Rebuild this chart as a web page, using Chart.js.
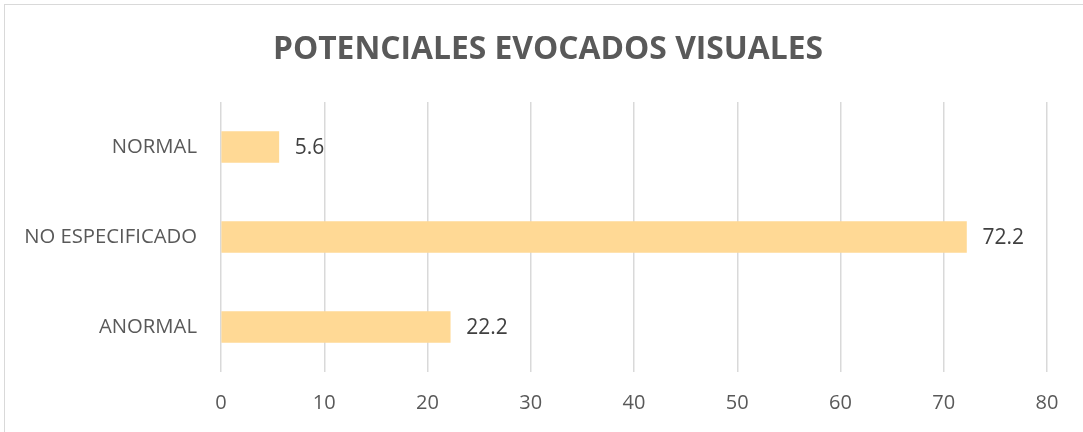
<!DOCTYPE html>
<html>
<head>
<meta charset="utf-8">
<script src="https://cdn.jsdelivr.net/npm/chart.js@4"></script>
<style>
  html, body { margin: 0; padding: 0; background: #fff; overflow: hidden; }
  #wrap { position: relative; width: 1083px; height: 432px; }
  #frame { position: absolute; left: 4px; top: 4px; width: 1100px; height: 450px; border: 1px solid #d9d9d9; box-sizing: border-box; }
  canvas { position: absolute; left: 0; top: 0; }
</style>
</head>
<body>
<div id="wrap">
  <div id="frame"></div>
  <canvas id="pevChart" width="1083" height="432"></canvas>
</div>
<script>
// ================= DATA =================
const categories = ["NORMAL", "NO ESPECIFICADO", "ANORMAL"];
const percentValues = [5.6, 72.2, 22.2];
const xTicks = [0, 10, 20, 30, 40, 50, 60, 70, 80];
const chartTitle = "POTENCIALES EVOCADOS VISUALES";

const FONT = "'Open Sans', 'Noto Sans', sans-serif";

// title drawn by hand so it sits centred on the whole frame, not the padded box
const titleText = {
  id: "titleText",
  afterDraw(chart) {
    const ctx = chart.ctx;
    ctx.save();
    ctx.font = "bold 31.8px " + FONT;
    ctx.fillStyle = "#595959";
    ctx.textAlign = "center";
    ctx.textBaseline = "middle";
    ctx.fillText(chartTitle, 548, 50);
    ctx.restore();
  }
};

// value labels at the end of each bar
const barLabels = {
  id: "barLabels",
  afterDatasetsDraw(chart) {
    const ctx = chart.ctx;
    const meta = chart.getDatasetMeta(0);
    ctx.save();
    ctx.font = "21px " + FONT;
    ctx.fillStyle = "#404040";
    ctx.textAlign = "left";
    ctx.textBaseline = "middle";
    meta.data.forEach((bar, i) => {
      ctx.fillText(String(percentValues[i]), bar.x + 16, bar.y + 1);
    });
    ctx.restore();
  }
};

new Chart(document.getElementById("pevChart"), {
  type: "bar",
  data: {
    labels: categories,
    datasets: [{
      data: percentValues,
      backgroundColor: "#FFD995",
      barThickness: 31
    }]
  },
  options: {
    indexAxis: "y",
    responsive: false,
    animation: false,
    layout: { padding: { left: 0, right: 36, top: 102, bottom: 0 } },
    plugins: {
      legend: { display: false },
      tooltip: { enabled: false },
      title: { display: false }
    },
    scales: {
      x: {
        min: 0,
        max: 80,
        afterBuildTicks(scale) {
          scale.ticks = xTicks.map(v => ({ value: v }));
        },
        afterFit(scale) { scale.height = 60; },
        grid: { color: "#d9d9d9", lineWidth: 1.5, drawTicks: false },
        border: { display: false },
        ticks: {
          color: "#595959",
          font: { family: FONT, size: 20 },
          padding: 19,
          maxRotation: 0
        }
      },
      y: {
        afterFit(scale) { scale.width = 221; },
        grid: { display: false, drawTicks: false },
        border: { display: false },
        ticks: {
          color: "#595959",
          font: { family: FONT, size: 20.3 },
          padding: 24
        }
      }
    }
  },
  plugins: [barLabels, titleText]
});
</script>
</body>
</html>
